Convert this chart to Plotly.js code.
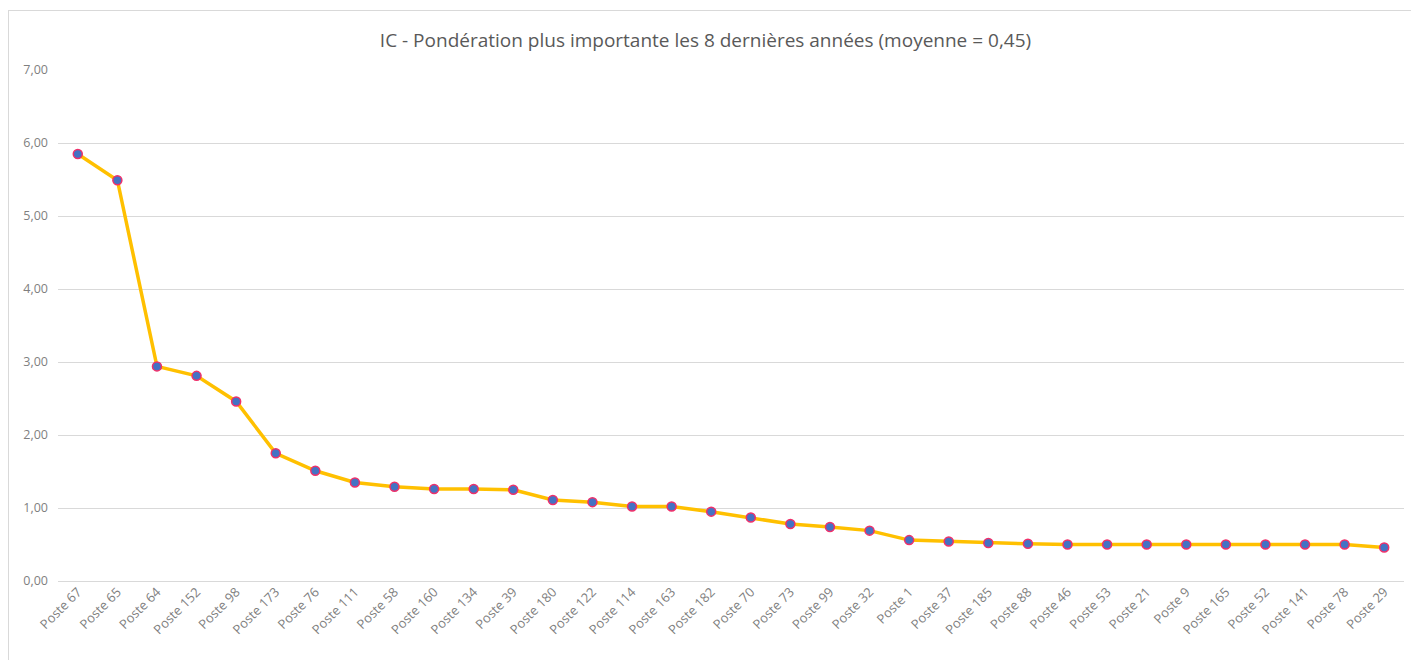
<!DOCTYPE html>
<html>
<head>
<meta charset="utf-8">
<script src="https://cdn.plot.ly/plotly-3.0.1.min.js"></script>
<style>
  html, body { margin: 0; padding: 0; background: #ffffff; }
  #frame { position: absolute; left: 8px; top: 10px; width: 1420px; height: 700px; border: 1px solid #d9d9d9; box-sizing: border-box; }
  #chart { position: absolute; left: 0; top: 0; width: 1411px; height: 660px; }
</style>
</head>
<body>
<div id="frame"></div>
<div id="chart"></div>
<script>
const categories = ["Poste 67","Poste 65","Poste 64","Poste 152","Poste 98","Poste 173","Poste 76","Poste 111","Poste 58","Poste 160","Poste 134","Poste 39","Poste 180","Poste 122","Poste 114","Poste 163","Poste 182","Poste 70","Poste 73","Poste 99","Poste 32","Poste 1","Poste 37","Poste 185","Poste 88","Poste 46","Poste 53","Poste 21","Poste 9","Poste 165","Poste 52","Poste 141","Poste 78","Poste 29"];
const values = [5.85,5.49,2.94,2.81,2.46,1.75,1.51,1.35,1.29,1.26,1.26,1.25,1.11,1.08,1.02,1.02,0.95,0.87,0.78,0.74,0.69,0.56,0.54,0.52,0.51,0.50,0.50,0.50,0.50,0.50,0.50,0.50,0.50,0.46];
const yTicks = [0,1,2,3,4,5,6,7];

const trace = {
  x: categories,
  y: values,
  type: 'scatter',
  mode: 'lines+markers',
  line: { color: '#FFC000', width: 3.5 },
  marker: { color: '#4472C4', size: 9, line: { color: '#F0306A', width: 1.5 } },
  hoverinfo: 'x+y'
};

const layout = {
  width: 1411, height: 660,
  paper_bgcolor: 'rgba(0,0,0,0)',
  plot_bgcolor: 'rgba(0,0,0,0)',
  separators: ', ',
  margin: { l: 58, r: 7, t: 70, b: 79 },
  showlegend: false,
  font: { family: 'Open Sans, sans-serif', color: '#595959' },
  title: {
    text: 'IC - Pondération plus importante les 8 dernières années (moyenne = 0,45)',
    font: { family: 'Open Sans, sans-serif', size: 19, color: '#595959' },
    x: 0.5, xanchor: 'center', y: 1 - 40/660, yanchor: 'middle'
  },
  xaxis: {
    type: 'category',
    tickangle: -45,
    tickfont: { size: 13, color: '#7f7f7f' },
    showgrid: false,
    zeroline: false,
    showline: false,
    ticks: '',
    range: [-0.5, categories.length - 0.5]
  },
  yaxis: {
    range: [0, 7],
    tickvals: yTicks,
    tickformat: '.2f',
    tickfont: { size: 12.5, color: '#7f7f7f' },
    gridcolor: '#d9d9d9',
    gridwidth: 1,
    zeroline: true,
    zerolinecolor: '#d9d9d9',
    zerolinewidth: 1,
    showline: false,
    ticks: '',
    ticklabelstandoff: 9
  }
};

Plotly.newPlot('chart', [trace], layout, { displayModeBar: false, staticPlot: true });
</script>
</body>
</html>
